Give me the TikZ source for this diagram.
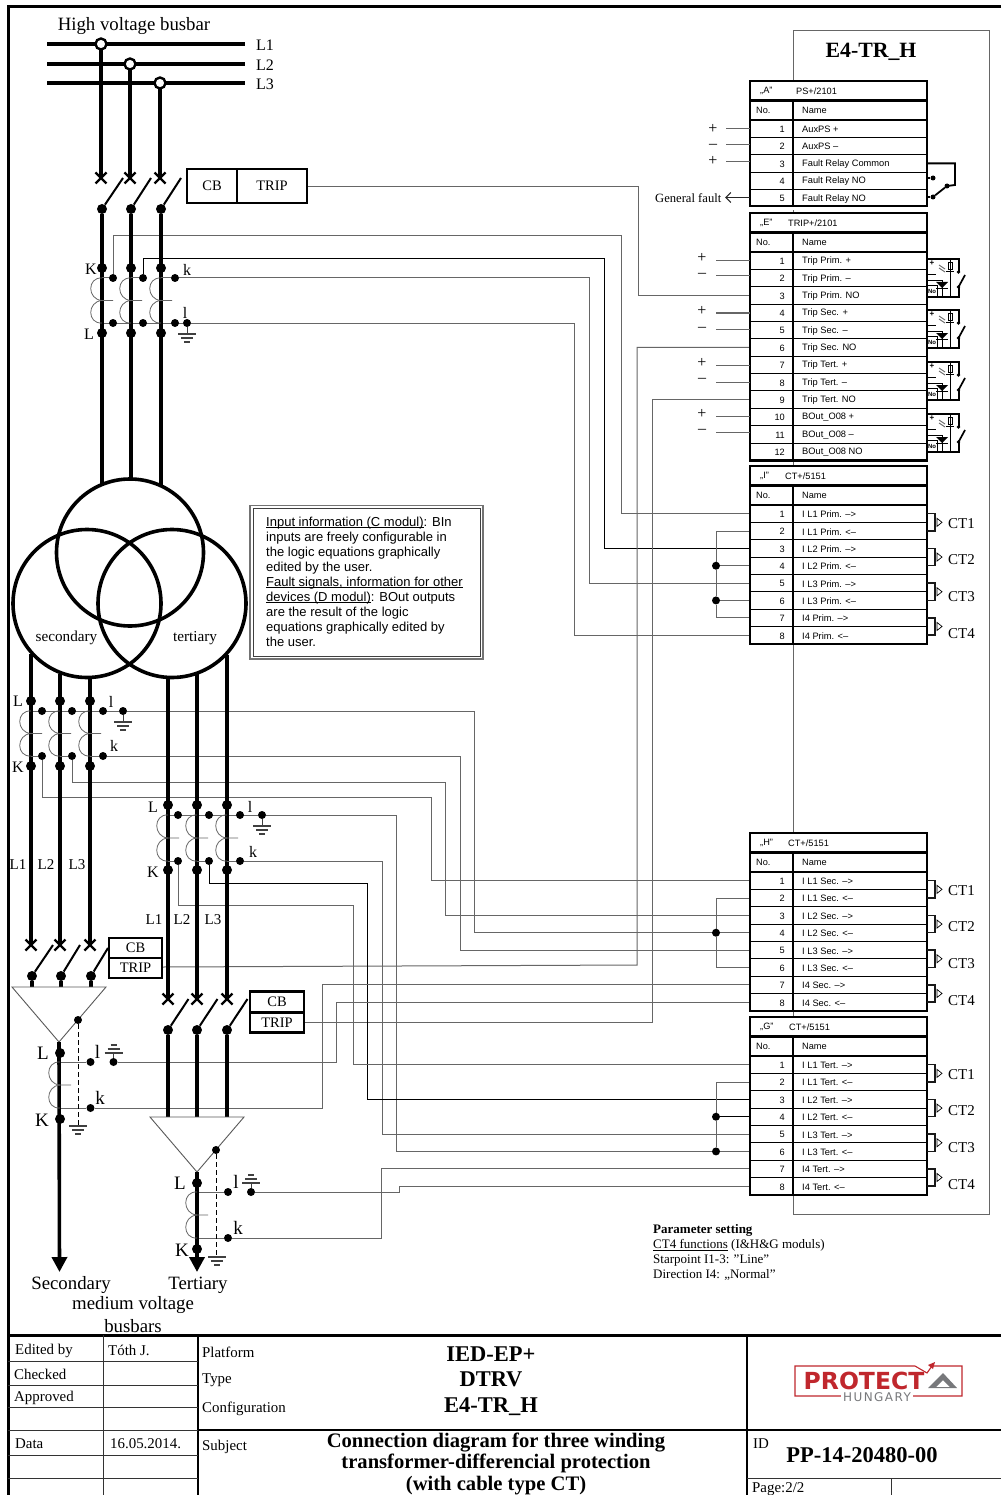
\documentclass[tikz,border=0pt]{standalone}
\usepackage{fontspec}
\setmainfont{Liberation Serif}
\newfontfamily\tablefont{Liberation Sans}
\newfontfamily\logofont[LetterSpace=12]{DejaVu Sans}
\newfontfamily\logobold{DejaVu Sans Bold}
\usetikzlibrary{positioning,shapes.misc,arrows.meta}
\definecolor{wiregray}{gray}{0.4}
\definecolor{logored}{HTML}{C0272D}
\definecolor{logogray}{HTML}{77787B}
\pgfdeclarelayer{wires}
\pgfsetlayers{wires,main}
\newcommand{\lineunder}[1]{\setbox0\hbox{#1}\rlap{\rule[-2pt]{\wd0}{0.8pt}}#1}
\tikzset{
	wire/.style={draw=wiregray,line width=1pt},
	wireblack/.style={draw=black,line width=0.7pt},
	phase/.style={draw=black,line width=3.6pt},
	blade/.style={draw=black,line width=2pt},
	dot/.style={circle,fill=black,inner sep=0pt,minimum size=8pt},
	bigdot/.style={circle,fill=black,inner sep=0pt,minimum size=10pt},
	busdot/.style={circle,draw=black,fill=white,line width=2.4pt,inner sep=0pt,minimum size=11pt},
	crossmark/.style={cross out,draw=black,line width=2.2pt,inner sep=0pt,minimum size=11pt,outer sep=0pt},
	lbl/.style={font=\fontsize{16}{18}\selectfont,inner sep=0pt},
	buslbl/.style={font=\fontsize{18.8}{20}\selectfont,inner sep=0pt},
	bigletter/.style={font=\fontsize{19}{20}\selectfont,inner sep=0pt},
	phaselbl/.style={font=\fontsize{15}{16}\selectfont,inner sep=0pt},
	cbcell/.style={draw=black,line width=2.6pt,outer sep=0pt,inner sep=0pt,font=\fontsize{14.5}{16}\selectfont},
	titletext/.style={font=\fontsize{14.9}{16}\selectfont,inner sep=0pt,anchor=west},
	titlebold/.style={font=\bfseries\fontsize{22.5}{24}\selectfont,inner sep=0pt},
	subjectbold/.style={font=\bfseries\fontsize{20.6}{21.5}\selectfont,inner sep=0pt,align=center},
	headcell/.style={draw=black,fill=white,line width=2.2pt,outer sep=0pt,inner sep=0pt,minimum height=19.5pt},
	headtext/.style={font=\tablefont\fontsize{9.2}{10}\selectfont,inner sep=0pt,anchor=west},
	rowcell/.style={draw=black,fill=white,line width=0.7pt,outer sep=0pt,inner sep=0pt,minimum width=177pt,minimum height=17.35pt},
	rowno/.style={font=\tablefont\fontsize{9.2}{10}\selectfont,inner sep=0pt,anchor=east},
	rowname/.style={font=\tablefont\fontsize{9.3}{10}\selectfont,inner sep=0pt,anchor=west},
	blockline/.style={draw=black,line width=2.6pt},
	earth/.style={draw=black!75,line width=1.1pt},
	coilline/.style={draw=black!60,line width=0.8pt},
	sign/.style={font=\fontsize{16}{18}\selectfont,inner sep=0pt},
	frameline/.style={draw=black,line width=3pt},
	gridline/.style={draw=black!80,line width=0.9pt},
	smallterm/.style={circle,fill=black,inner sep=0pt,minimum size=5pt},
	starline/.style={line width=1pt,dash pattern=on 5pt off 3pt},
	deltaline/.style={draw=black!65,line width=0.9pt},
	busarrow/.style={-{Triangle[length=15pt,width=15pt]}},
}
\newcommand{\termblock}[6]{
	\node[headcell,minimum width=177pt,anchor=north west] (#1title) at (750,#5) {};
	\node[headtext] (#1letter) at (760,#5+10) {„#2”};
	\node[headtext] (#1code) at (#3,#5+10) {#4};
	\node[headcell,minimum width=43pt,anchor=north west] (#1no) at (#1title.south west) {};
	\node[headcell,minimum width=134pt,anchor=north west] (#1name) at (#1no.north east) {};
	\node[headtext] (#1nolabel) at (756,#5+29.5) {No.};
	\node[headtext] (#1namelabel) at (802,#5+29.5) {Name};
	\foreach \rowtext [count=\n] in {#6} {
		\pgfmathsetmacro{\rowy}{#5+39+(\n-1)*17.35}
		\node[rowcell,anchor=north west] (#1\n) at (750,\rowy) {};
		\node[rowno] (#1\n-no) at (785,\rowy+9.4) {\n};
		\node[rowname] (#1\n-name) at (802,\rowy+9.4) {\rowtext};
		\xdef\lastrow{\n}
	}
	\draw[blockline] (#1no.north east) -- (#1\lastrow.south -| #1no.east);
	\draw[blockline] (#1title.north west) rectangle (#1\lastrow.south east);
}
\newcommand{\coil}[3]{
	\pgfmathsetmacro{\coilmid}{(#2+#3)/2}
	\draw[coilline] (#1,#2) .. controls (#1-15,#2-1) and (#1-15,\coilmid-1) .. (#1,\coilmid) -- (#1+11,\coilmid);
	\draw[coilline] (#1,\coilmid) .. controls (#1-15,\coilmid+1) and (#1-15,#3+1) .. (#1,#3);
}
\newcommand{\earthmark}[3]{
	\draw[earth,line width=1.6pt] (#1-9,#2) -- (#1+9,#2);
	\draw[earth] (#1-6,#2+#3*4) -- (#1+6,#2+#3*4);
	\draw[earth] (#1-3,#2+#3*8) -- (#1+3,#2+#3*8);
}
\newcommand{\tripicon}[1]{
	\begin{scope}[shift={(0,#1)}]
		\draw[line width=1.5pt] (927,259) -- (959,259) -- (959,272);
		\draw[line width=1.5pt] (927,297) -- (959,297) -- (959,287);
		\draw[line width=1.7pt] (958.5,287) -- (965,275);
		\fill (958.5,272) circle (1.8);
		\fill (958.5,287) circle (1.8);
		\draw[line width=1pt] (950,259) -- (950,297);
		\draw[line width=0.9pt] (948,262) rectangle (952,269);
		\draw[draw=black!60,line width=0.9pt] (939,265) -- (945,269) (939,268) -- (945,272);
		\draw[line width=1pt] (946,271.5) -- (954,271.5);
		\draw[line width=0.8pt] (927,274) -- (936,274) (927,280) -- (942,280) -- (942,297);
		\fill (936,282) -- (948,282) -- (942,288) -- cycle;
		\draw[line width=1.2pt] (936,288.5) -- (948,288.5);
		\draw[line width=0.8pt] (927,285.5) -- (937,285.5) -- (937,297);
		\node[font=\tablefont\bfseries\fontsize{8}{8}\selectfont,inner sep=0pt] at (932,263.5) {+};
		\node[font=\tablefont\bfseries\fontsize{6}{6}\selectfont,inner sep=0pt] at (932,291.5) {No};
	\end{scope}
}
\newcommand{\ctmark}[4]{
	\draw[line width=1.5pt,draw=black!90] (#1.east) -- ++(8,0) |- (#2.east);
	\draw[line width=0.7pt] (937,0 |- #1.south) ++(0,-4) -- ++(5,4) -- ++(-5,4) -- cycle;
	\path (948,0 |- #1.south) ++(0,#4) node[phaselbl,anchor=west] (#1ct) {#3};
}
\begin{document}
\begin{tikzpicture}[x=1pt,y=-1pt]
	\useasboundingbox (0,0) rectangle (1001,1495);
	\begin{pgfonlayer}{wires}
		\fill[white] (0,0) rectangle (1001,1495);
		\draw[draw=black!60,line width=0.9pt] (793,30) rectangle (989,1214);
	\end{pgfonlayer}

	\draw[frameline] (1001,7) -- (8,7) -- (8,1495);
	\node[font=\bfseries\fontsize{21.8}{23}\selectfont,inner sep=0pt] (device) at (871,52) {E4-TR\_H};

	\termblock{A}{A}{796}{PS+/2101}{81}{AuxPS +,AuxPS –,Fault Relay Common,Fault Relay NO,Fault Relay NO}
	\draw[white,line width=2.6pt] (A5.south west) ++(-2,1.5) -- ++(181,0);
	\termblock{E}{E}{788}{TRIP+/2101}{213}{Trip Prim. +,Trip Prim. –,Trip Prim. NO,Trip Sec. +,Trip Sec. –,Trip Sec. NO,Trip Tert. +,Trip Tert. –,Trip Tert. NO,BOut\_O08 +,BOut\_O08 –,BOut\_O08 NO}
	\termblock{I}{I}{785}{CT+/5151}{466}{I L1 Prim. –>,I L1 Prim. <–,I L2 Prim. –>,I L2 Prim. <–,I L3 Prim. –>,I L3 Prim. <–,I4 Prim. –>,I4 Prim. <–}
	\termblock{H}{H}{788}{CT+/5151}{833}{I L1 Sec. –>,I L1 Sec. <–,I L2 Sec. –>,I L2 Sec. <–,I L3 Sec. –>,I L3 Sec. <–,I4 Sec. –>,I4 Sec. <–}
	\termblock{G}{G}{789}{CT+/5151}{1017}{I L1 Tert. –>,I L1 Tert. <–,I L2 Tert. –>,I L2 Tert. <–,I L3 Tert. –>,I L3 Tert. <–,I4 Tert. –>,I4 Tert. <–}

	\node[buslbl] (hvlabel) at (134,26) {High voltage busbar};
	\foreach \p/\x/\y in {1/101/44,2/130/64,3/160/83} {
		\coordinate (bs\p) at (47,\y);
		\coordinate (be\p) at (245,\y);
		\draw[phase,line width=3.4pt] (bs\p) -- (be\p);
		\node[lbl,anchor=west] (bl\p) at (256,\y+1) {L\p};
		\node[crossmark] (pc\p) at (\x,178) {};
		\draw[phase] (\x,\y) -- (pc\p.center);
		\node[busdot] (hv\p) at (\x,\y) {};
	}
	\foreach \p/\x/\b/\q/\ty in {1/102/123/113/485,2/131/151/143/480,3/161/181/175/485} {
		\node[bigdot] (pd\p) at (\x,209) {};
		\coordinate (pb\p) at (\b,178);
		\draw[blade] (pd\p) -- (pb\p);
		\coordinate (pt\p) at (\x,\ty);
		\draw[phase] (pd\p) -- (pt\p);
		\node[bigdot] (pK\p) at (\x,268) {};
		\node[bigdot] (pL\p) at (\x,333) {};
		\node[dot] (pk\p) at (\q,278) {};
		\node[dot] (pl\p) at (\q,323) {};
		\coil{\x}{278}{323}
		\draw[wire] (\x,278) -- (pk\p);
	}
	\node[lbl] (plK) at (91,269) {K};
	\node[lbl] (plL) at (89,334) {L};
	\node[lbl] (plk) at (187,270) {k};
	\node[lbl] (pll) at (185,313) {l};
	\node[dot] (pg) at (187,323) {};
	\draw[earth,line width=1pt] (pg) -- (187,334);
	\earthmark{187}{334}{1}

	\node[cbcell,minimum width=50pt,minimum height=34pt] (cbP) at (212,186) {CB};
	\node[cbcell,minimum width=70pt,minimum height=34pt,right=0pt of cbP] (tripP) {TRIP};
	\node[cbcell,minimum width=53pt,minimum height=20pt] (cbS) at (135.5,948) {CB};
	\node[cbcell,minimum width=53pt,minimum height=20pt,below=0pt of cbS] (tripS) {TRIP};
	\node[cbcell,minimum width=54pt,minimum height=20.5pt] (cbT) at (277,1002) {CB};
	\node[cbcell,minimum width=54pt,minimum height=20.5pt,below=0pt of cbT] (tripT) {TRIP};

	\draw[line width=3.6pt] (130,552.5) circle (73.5);
	\draw[line width=3.6pt] (87,603.5) circle (74);
	\draw[line width=3.6pt] (172,603.5) circle (74);
	\node[font=\fontsize{15.2}{16}\selectfont,inner sep=0pt] (seclabel) at (66.5,638) {secondary};
	\node[font=\fontsize{15.2}{16}\selectfont,inner sep=0pt] (terlabel) at (195,638) {tertiary};

	\foreach \p/\x/\q/\ty/\bx/\by/\tx in {1/31/42/654/53/945/18,2/60/72/674/80/945/46,3/90/103/677/108/948/77} {
		\coordinate (st\p) at (\x,\ty);
		\node[crossmark] (sc\p) at (\x,945) {};
		\draw[phase] (st\p) -- (sc\p.center);
		\node[bigdot] (sK\p) at (\x,701) {};
		\node[bigdot] (sL\p) at (\x,766) {};
		\node[dot] (sl\p) at (\q,711) {};
		\node[dot] (sk\p) at (\q,756) {};
		\coil{\x}{711}{756}
		\draw[wire] (\x,756) -- (sk\p);
		\node[phaselbl] (sn\p) at (\tx,865) {L\p};
		\node[bigdot] (sd\p) at (\x+1,976) {};
		\coordinate (sb\p) at (\bx,\by);
		\draw[blade] (sd\p) -- (sb\p);
		\coordinate (sq\p) at (\x+1,987);
		\draw[phase] (sd\p) -- (sq\p);
	}
	\node[lbl] (slL) at (18,701) {L};
	\node[lbl] (slK) at (18,767) {K};
	\node[lbl] (sll) at (111,702) {l};
	\node[lbl] (slk) at (114,746) {k};
	\node[dot] (sg) at (123,711) {};
	\draw[earth,line width=1pt] (sg) -- (123,722);
	\earthmark{123}{722}{1}

	\foreach \p/\x/\q/\ty/\tx in {1/168/178/677/154,2/197/209/674/182,3/227/240/655/213} {
		\coordinate (tt\p) at (\x,\ty);
		\node[crossmark] (tc\p) at (\x,999) {};
		\draw[phase] (tt\p) -- (tc\p.center);
		\node[bigdot] (tK\p) at (\x,805) {};
		\node[bigdot] (tL\p) at (\x,870) {};
		\node[dot] (tl\p) at (\q,815) {};
		\node[dot] (tk\p) at (\q,861) {};
		\coil{\x}{815}{861}
		\draw[wire] (\x,861) -- (tk\p);
		\node[phaselbl] (tn\p) at (\tx,920) {L\p};
		\node[bigdot] (td\p) at (\x,1030) {};
		\coordinate (tb\p) at (\x+20.5,999);
		\draw[blade] (td\p) -- (tb\p);
		\coordinate (tq\p) at (\x,1117);
		\draw[phase] (td\p) -- (tq\p);
	}
	\node[lbl] (tlL) at (153,807) {L};
	\node[lbl] (tlK) at (153,872) {K};
	\node[lbl] (tll) at (250,807) {l};
	\node[lbl] (tlk) at (253,852) {k};
	\node[dot] (tg) at (262,815) {};
	\draw[earth,line width=1pt] (tg) -- (262,826);
	\earthmark{262}{826}{1}

	\coordinate (seapex) at (59,1042);
	\draw[deltaline] (12,987) -- (106,987) -- (seapex) -- cycle;
	\node[dot] (sestar) at (78,1020) {};
	\draw[starline] (sestar) -- (78,1126);
	\earthmark{78}{1126}{1}
	\coordinate (searrow) at (59.5,1272);
	\draw[phase,busarrow] (seapex) -- (searrow);
	\node[bigdot] (seL) at (60,1053) {};
	\node[bigdot] (seK) at (60,1119) {};
	\node[dot] (sel) at (90.5,1062) {};
	\node[dot] (sek) at (90.5,1108) {};
	\node[dot] (seg) at (113.5,1062) {};
	\coil{60}{1062}{1108}
	\draw[earth,line width=1pt] (seg) -- (113.5,1053);
	\earthmark{113.5}{1053}{-1}
	\node[bigletter] (selL) at (43,1053) {L};
	\node[bigletter] (selK) at (42,1120) {K};
	\node[bigletter] (sell) at (97.5,1052) {l};
	\node[bigletter] (selk) at (100,1098) {k};

	\coordinate (teapex) at (197,1172);
	\draw[deltaline] (150,1117) -- (244,1117) -- (teapex) -- cycle;
	\node[dot] (testar) at (216,1150) {};
	\draw[starline] (testar) -- (216,1257);
	\earthmark{217}{1257}{1}
	\coordinate (tearrow) at (197,1272);
	\draw[phase,busarrow] (teapex) -- (tearrow);
	\node[bigdot] (teL) at (197,1183) {};
	\node[bigdot] (teK) at (197,1249) {};
	\node[dot] (tel) at (228,1192) {};
	\node[dot] (tek) at (228,1238) {};
	\node[dot] (teg) at (251,1192) {};
	\coil{197}{1192}{1238}
	\draw[earth,line width=1pt] (teg) -- (251,1183);
	\earthmark{251}{1183}{-1}
	\node[bigletter] (telL) at (180,1183) {L};
	\node[bigletter] (telK) at (182,1250) {K};
	\node[bigletter] (tell) at (236,1182) {l};
	\node[bigletter] (telk) at (238,1228) {k};

	\coordinate (jumpx) at (716,0);
	\node[dot] (jI4) at (jumpx |- I4) {};
	\node[dot] (jI6) at (jumpx |- I6) {};
	\node[dot] (jH4) at (jumpx |- H4) {};
	\node[dot] (jG4) at (jumpx |- G4) {};
	\node[dot] (jG6) at (jumpx |- G6) {};

	\begin{pgfonlayer}{wires}
		\draw[wire] (102,323) -- (pg);
		\draw[wire] (31,711) -- (sg);
		\draw[wire] (168,815) -- (tg);
		\draw[wire] (pk1) |- (621,236) |- (I1.west);
		\draw[wireblack] (pk2) |- (604,258) |- (I3.west);
		\draw[wire] (pk3) -- (589,278) |- (I5.west);
		\draw[wire] (pg) -- (574,323) |- (I8.west);
		\draw[wire] (tripP.east |- 0,187) -- (638,187) |- (E3.west);
		\draw[wire] (tripS.east |- 0,967) -- (637,965) |- (E6.west);
		\draw[wire] (tripT.east |- 0,1022) -- (652,1022) |- (E9.west);
		\draw[wire] (sg) -- (474,711) |- (H4.west);
		\draw[wire] (sk3) -- (460,756) |- (H5.west);
		\draw[wire] (sk2) |- (445,782) |- (H3.west);
		\draw[wire] (sk1) |- (431,797) |- (H1.west);
		\draw[wire] (tg) -- (396,815) |- (G6.west);
		\draw[wire] (tk3) -- (382,861) |- (G5.west);
		\draw[wireblack] (tk2) |- (367,883) |- (G3.west);
		\draw[wire] (tk1) |- (353,905) |- (G1.west);
		\draw[wire] (I2.west) -| (jI4);
		\draw[wire] (jI4) -- (jI6);
		\draw[wire] (jI6) |- (I7.west);
		\draw[wire] (jI4) -- (I4.west);
		\draw[wire] (jI6) -- (I6.west);
		\draw[wire] (H2.west) -| (jH4);
		\draw[wire] (jH4) |- (H6.west);
		\draw[wire] (G2.west) -| (jG4);
		\draw[wire] (jG4) -- (jG6);
		\draw[wireblack] (jG4) -- (G4.west);
		\draw[wire] (60,1062) -- (sel);
		\draw[wire] (60,1108) -- (sek);
		\draw[wire] (seg) -- (336,1062) |- (H8.west);
		\draw[wire] (sek) -- (322,1108) |- (H7.west);
		\draw[wire] (197,1192) -- (tel);
		\draw[wire] (197,1238) -- (tek);
		\draw[wire] (teg) -- (399,1192) |- (G8.west);
		\draw[wire] (tek) -- (381,1238) |- (G7.west);
	\end{pgfonlayer}

	\node[buslbl] (secbus) at (71,1285) {Secondary};
	\node[buslbl] (terbus) at (198,1285) {Tertiary};
	\node[buslbl] (medbus) at (133,1305) {medium voltage};
	\node[buslbl] (busbus) at (133,1326) {busbars};

	\foreach \r/\ly/\sy/\s in {1/129/129/+,2/145/146/–,3/162/161/+} {
		\coordinate (Aw\r) at (726,\ly);
		\draw[wire] (A\r.west |- Aw\r) -- (Aw\r);
		\node[sign] (As\r) at (713,\sy) {\s};
	}
	\foreach \r/\ly/\sy/\s in {1/261/258/+,2/276/275/–,4/313/311/+,5/329/329/–,7/365/363/+,8/382/380/–,10/416/414/+,11/432/431/–} {
		\coordinate (Ew\r) at (716,\ly);
		\draw[wire] (E\r.west |- Ew\r) -- (Ew\r);
		\node[sign] (Es\r) at (702,\sy) {\s};
	}
	\node[font=\fontsize{12.6}{14}\selectfont,inner sep=0pt,anchor=east] (genfault) at (721.5,198) {General fault};
	\coordinate (faultend) at (725,197.5);
	\draw[line width=1.1pt,draw=black!85,-{Straight Barb[length=5pt,width=10pt]}] (A5.west |- faultend) -- (faultend);

	\draw[line width=1.8pt] (A3.east) -| (955,185) -- (947,186);
	\node[smallterm] (fno) at (933,178) {};
	\node[smallterm] (fpv) at (947,186) {};
	\node[smallterm] (fcm) at (933,197) {};
	\draw[line width=1.6pt] (A4.east |- fno) -- (fno);
	\draw[line width=1.6pt] (A5.east |- fcm) -- (fcm);
	\draw[line width=1.8pt] (fcm) -- (fpv);

	\tripicon{0}
	\tripicon{51}
	\tripicon{103}
	\tripicon{155}

	\foreach \b in {I,H,G} {
		\ctmark{\b1}{\b2}{CT1}{1}
		\ctmark{\b3}{\b4}{CT2}{3}
		\ctmark{\b5}{\b6}{CT3}{5}
		\ctmark{\b7}{\b8}{CT4}{7.5}
	}

	\draw[draw=black!55,line width=1.8pt] (250,505.5) rectangle (483,659);
	\draw[draw=black!75,line width=0.9pt] (253,508.5) rectangle (480.5,656.5);
	\node[font=\tablefont\fontsize{13}{15}\selectfont,inner sep=0pt,anchor=north west,align=left] (infotext) at (266,516.5) {\lineunder{Input information (C modul)}: BIn\\inputs are freely configurable in\\the logic equations graphically\\edited by the user.\\\lineunder{Fault signals, information for other}\\\lineunder{devices (D modul)}: BOut outputs\\are the result of the logic\\equations graphically edited by\\the user.};

	\node[font=\fontsize{13}{15}\selectfont,inner sep=0pt,anchor=north west,align=left] (params) at (653,1224.5) {\textbf{Parameter setting}\\\lineunder{CT4 functions} (I\&H\&G moduls)\\Starpoint I1-3: "Line"\\Direction I4: „Normal"};

	\draw[frameline] (8,1335) -- (1001,1335);
	\draw[frameline,line width=2.2pt] (198,1335) -- (198,1495);
	\draw[frameline,line width=2.2pt] (747,1335) -- (747,1495);
	\draw[frameline,line width=2.2pt] (198,1430) -- (1001,1430);
	\draw[gridline] (103,1335) -- (103,1495);
	\foreach \y in {1361,1385,1407,1430,1455,1478} {
		\draw[gridline] (8,\y) -- (198,\y);
	}
	\draw[gridline] (747,1478) -- (1001,1478);
	\draw[gridline] (891,1478) -- (891,1495);
	\foreach \n/\x/\y/\t in {edited/15/1351/Edited by,checked/14/1374/Checked,approved/14/1398/Approved,data/15/1444/Data,author/108/1350/Tóth J.,date/110/1444/16.05.2014.,platform/202/1352/Platform,type/202/1380/Type,config/202/1409/Configuration,subject/202/1447/Subject,idlabel/753/1444/ID,page/752/1489/{Page:2/2}} {
		\node[titletext] (\n) at (\x,\y) {\t};
	}
	\node[titlebold] (tbplat) at (491,1354) {IED-EP+};
	\node[titlebold] (tbtype) at (491,1379) {DTRV};
	\node[titlebold] (tbcfg) at (491,1407) {E4-TR\_H};
	\node[subjectbold] (tbsubj) at (496,1463.5) {Connection diagram for three winding\\transformer-differencial protection\\(with cable type CT)};
	\node[titlebold] (tbid) at (862,1455) {PP-14-20480-00};

	\draw[draw=logored,line width=1.1pt] (933,1366) -- (962,1366) -- (962,1396) -- (795,1396) -- (795,1366) -- (915,1366) -- (927,1373) -- (932,1366);
	\fill[logored] (935,1362) -- (928,1365) -- (933,1369) -- cycle;
	\node[font=\logobold\fontsize{23.5}{25}\selectfont,text=logored,inner sep=0pt] (logotext) at (864,1381) {PROTECT};
	\fill[logogray,even odd rule] (928,1388) -- (943,1373) -- (957,1388) -- cycle (936,1387) -- (950,1387) -- (943,1380) -- cycle;
	\node[font=\logofont\fontsize{12}{13}\selectfont,text=logogray,fill=white,inner sep=2pt] (logosub) at (877,1397) {HUNGARY};
\end{tikzpicture}
\end{document}
